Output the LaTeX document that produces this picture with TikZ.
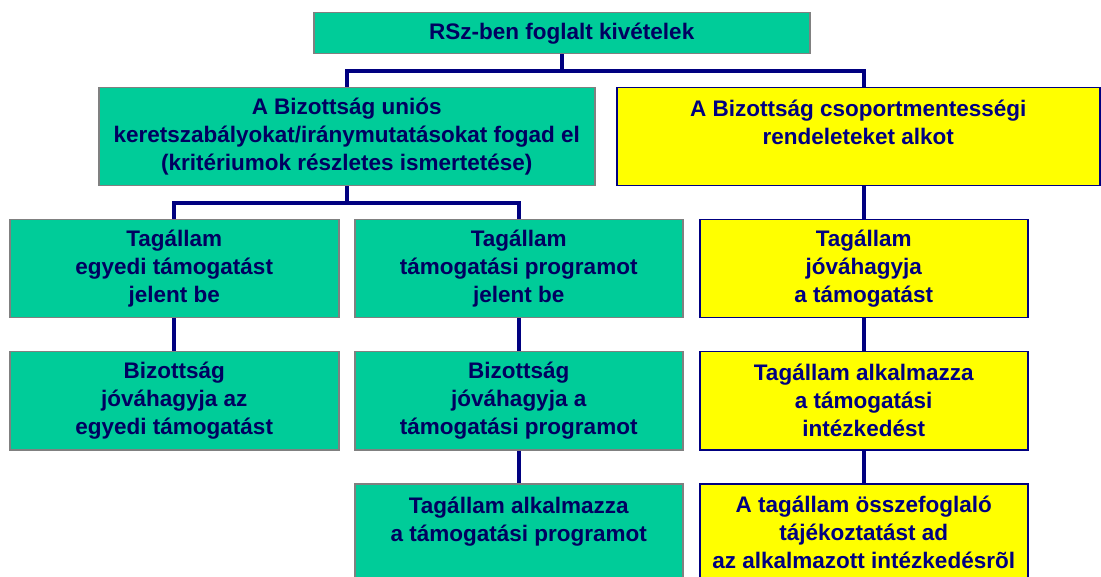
\documentclass[tikz,border=0pt]{standalone}
\usepackage{fontspec}
\setmainfont{Liberation Sans}
\usetikzlibrary{calc}
\definecolor{zold}{RGB}{0,204,153}
\definecolor{sarga}{RGB}{255,255,0}
\definecolor{sotetkek}{RGB}{0,0,128}
\definecolor{szurke}{RGB}{128,128,128}
\tikzset{
  doboz/.style={line width=1.5pt, inner sep=0pt, anchor=north west, align=center,
    font=\bfseries\fontsize{22.5}{28}\selectfont},
  zoldbox/.style={doboz, draw=szurke, fill=zold, text=sotetkek!75!black},
  sargabox/.style={doboz, draw=sotetkek, fill=sarga, text=sotetkek},
  meret/.style 2 args={minimum width=#1pt, minimum height=#2pt},
  vonal/.style={draw=sotetkek, line width=4pt}
}

\begin{document}
\begin{tikzpicture}[x=1pt,y=-1pt]
		%\draw[help lines] (0,0) grid (1101,577);
		\useasboundingbox (0,0) rectangle (1101,577);
		
		\node[zoldbox, meret={496}{41}] (top) at (313,12) {RSz-ben foglalt kivételek};
		
		\node[zoldbox, meret={496}{98}] (biz) at (98,87) {A Bizottság uniós\\keretszabályokat/iránymutatásokat fogad el\\(kritériumok részletes ismertetése)};
		\node[sargabox, meret={483}{98}] (csop) at (616,87) {A Bizottság csoportmentességi\\rendeleteket alkot\\\mbox{}};
		
		\node[zoldbox, meret={329}{98}] (a1) at (9,219) {Tagállam\\egyedi támogatást\\jelent be};
		\node[zoldbox, meret={328}{98}] (b1) at (354,219) {Tagállam\\támogatási programot\\jelent be};
		\node[sargabox, meret={328}{98}] (c1) at (699,219) {Tagállam\\jóváhagyja\\a támogatást};
		
		\node[zoldbox, meret={329}{98}] (a2) at (9,351) {Bizottság\\jóváhagyja az\\egyedi támogatást};
		\node[zoldbox, meret={328}{98}] (b2) at (354,351) {Bizottság\\jóváhagyja a\\támogatási programot};
		\node[sargabox, meret={328}{98}] (c2) at (699,351) {Tagállam alkalmazza\\a támogatási\\intézkedést};
		
		\node[zoldbox, meret={328}{98}] (b3) at (354,483) {Tagállam alkalmazza\\a támogatási programot\\\mbox{}};
		\node[sargabox, meret={328}{98}] (c3) at (699,483) {A tagállam összefoglaló\\tájékoztatást ad\\az alkalmazott intézkedésrõl};
		
		\coordinate (top_le) at ($(top.south)+(0,17)$);%first fork
		\draw[vonal] (top.south) -- (top_le);
		\draw[vonal] (biz.north) |- (top_le) -| (csop.north -| c1.north);
		
		\coordinate (biz_le) at ($(biz.south)+(0,17)$);%second fork
		\draw[vonal] (biz.south) -- (biz_le);
		\draw[vonal] (a1.north) |- (biz_le) -| (b1.north);
		
		\draw[vonal] (a1.south) -- (a2.north);
		\draw[vonal] (b1.south) -- (b2.north);
		\draw[vonal] (b2.south) -- (b3.north);
		\draw[vonal] (csop.south -| c1.north) -- (c1.north);
		\draw[vonal] (c1.south) -- (c2.north);
		\draw[vonal] (c2.south) -- (c3.north);
\end{tikzpicture}
\end{document}
